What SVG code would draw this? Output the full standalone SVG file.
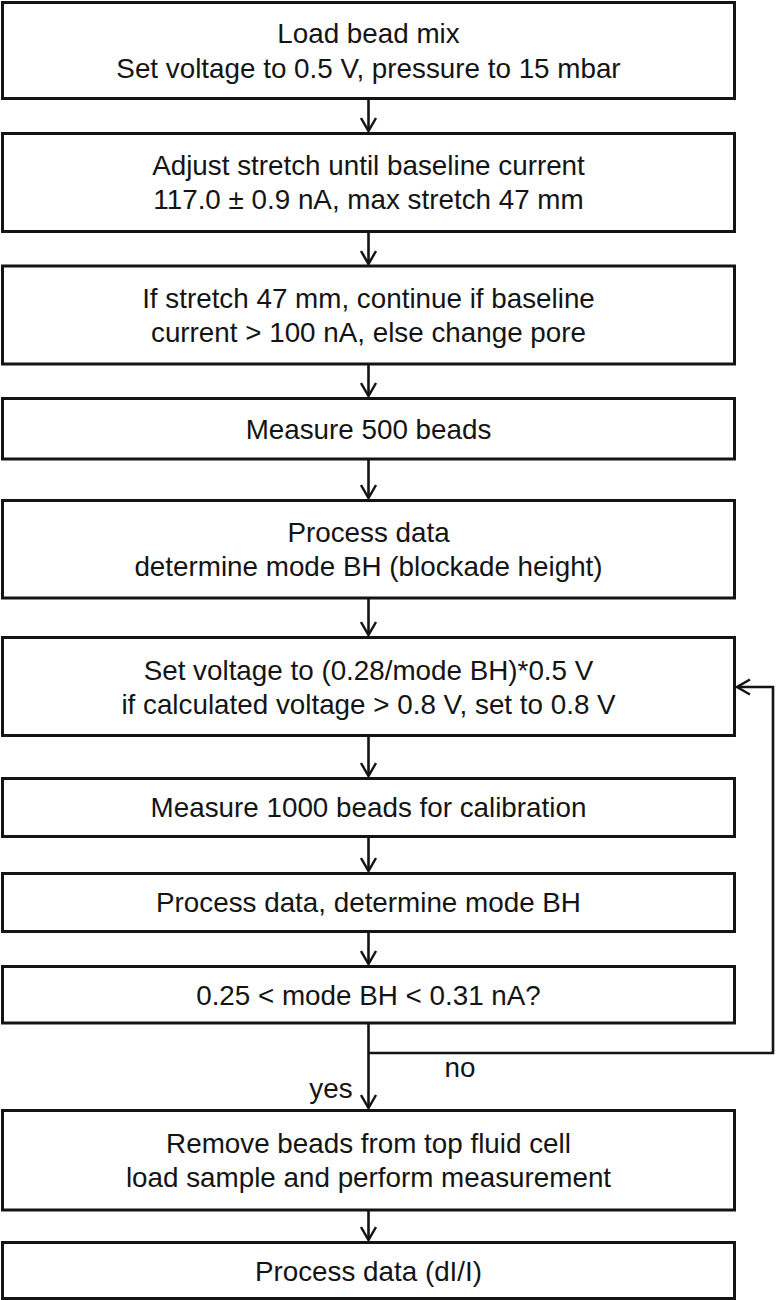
<svg xmlns="http://www.w3.org/2000/svg" width="776" height="1300" viewBox="0 0 776 1300">
<style>
.box{fill:#fff;stroke:#141414;stroke-width:3}
.t{font-family:"Liberation Sans",Arial,sans-serif;font-size:27.8px;fill:#141414;text-anchor:middle}
.c{fill:none;stroke:#141414;stroke-width:2.6}
</style>
<defs>
<marker id="ah" markerWidth="18" markerHeight="18" refX="14" refY="9" orient="auto" markerUnits="userSpaceOnUse">
<polyline points="1,1.5 14,9 1,16.5" fill="none" stroke="#141414" stroke-width="2.5"/>
</marker>
</defs>
<rect width="776" height="1300" fill="#fff"/>
<g id="connectors">
<line class="c" x1="368.5" y1="99" x2="368.5" y2="131" marker-end="url(#ah)"/>
<line class="c" x1="368.5" y1="232" x2="368.5" y2="264" marker-end="url(#ah)"/>
<line class="c" x1="368.5" y1="365" x2="368.5" y2="396" marker-end="url(#ah)"/>
<line class="c" x1="368.5" y1="460" x2="368.5" y2="498" marker-end="url(#ah)"/>
<line class="c" x1="368.5" y1="599" x2="368.5" y2="635" marker-end="url(#ah)"/>
<line class="c" x1="368.5" y1="737" x2="368.5" y2="776" marker-end="url(#ah)"/>
<line class="c" x1="368.5" y1="837" x2="368.5" y2="871" marker-end="url(#ah)"/>
<line class="c" x1="368.5" y1="932" x2="368.5" y2="964" marker-end="url(#ah)"/>
<line class="c" x1="368.5" y1="1024" x2="368.5" y2="1108" marker-end="url(#ah)"/>
<polyline class="c" points="368.5,1053 773,1053 773,687 737,687" marker-end="url(#ah)"/>
<line class="c" x1="368.5" y1="1211" x2="368.5" y2="1240" marker-end="url(#ah)"/>
<text class="t" x="460" y="1077">no</text>
<text class="t" x="331" y="1098">yes</text>
</g>
<g id="n1"><rect class="box" x="2.5" y="2.5" width="732" height="96"/>
<text class="t" x="368.5" y="43">Load bead mix</text>
<text class="t" x="368.5" y="78">Set voltage to 0.5 V, pressure to 15 mbar</text></g>
<g id="n2"><rect class="box" x="2.5" y="133.5" width="732" height="98"/>
<text class="t" x="368.5" y="175">Adjust stretch until baseline current</text>
<text class="t" x="368.5" y="209">117.0 ± 0.9 nA, max stretch 47 mm</text></g>
<g id="n3"><rect class="box" x="2.5" y="266" width="732" height="98"/>
<text class="t" x="368.5" y="308">If stretch 47 mm, continue if baseline</text>
<text class="t" x="368.5" y="342">current &gt; 100 nA, else change pore</text></g>
<g id="n4"><rect class="box" x="2.5" y="398.5" width="732" height="60.5"/>
<text class="t" x="368.5" y="438.5">Measure 500 beads</text></g>
<g id="n5"><rect class="box" x="2.5" y="500.5" width="732" height="97.5"/>
<text class="t" x="368.5" y="542">Process data</text>
<text class="t" x="368.5" y="576">determine mode BH (blockade height)</text></g>
<g id="n6"><rect class="box" x="2.5" y="637.5" width="732" height="98"/>
<text class="t" x="368.5" y="679.5">Set voltage to (0.28/mode BH)*0.5 V</text>
<text class="t" x="368.5" y="713.5">if calculated voltage &gt; 0.8 V, set to 0.8 V</text></g>
<g id="n7"><rect class="box" x="2.5" y="778.5" width="732" height="58"/>
<text class="t" x="368.5" y="817">Measure 1000 beads for calibration</text></g>
<g id="n8"><rect class="box" x="2.5" y="873.5" width="732" height="58"/>
<text class="t" x="368.5" y="912">Process data, determine mode BH</text></g>
<g id="n9"><rect class="box" x="2.5" y="966.5" width="732" height="56.5"/>
<text class="t" x="368.5" y="1004.5">0.25 &lt; mode BH &lt; 0.31 nA?</text></g>
<g id="n10"><rect class="box" x="2.5" y="1110.5" width="732" height="99.5"/>
<text class="t" x="368.5" y="1153">Remove beads from top fluid cell</text>
<text class="t" x="368.5" y="1187">load sample and perform measurement</text></g>
<g id="n11"><rect class="box" x="2.5" y="1242.5" width="732" height="56"/>
<text class="t" x="368.5" y="1280.5">Process data (dI/I)</text></g>
</svg>
